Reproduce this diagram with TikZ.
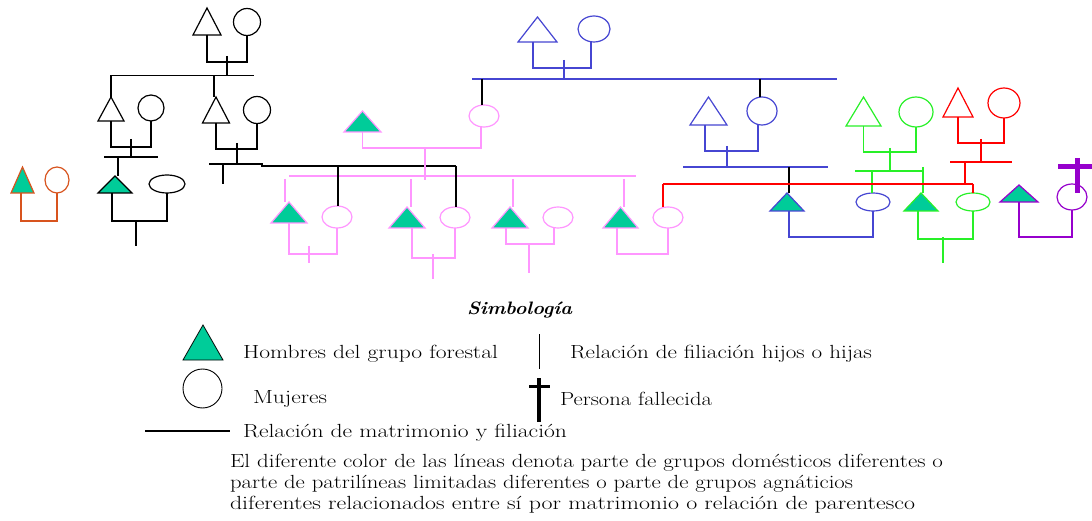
\documentclass[tikz,border=0pt]{standalone}
\usepackage{fontspec}
\usepackage{graphicx}
\usetikzlibrary{shapes.geometric}
\definecolor{myteal}{RGB}{0,204,153}
\definecolor{pinkl}{RGB}{255,150,255}
\definecolor{blu}{RGB}{70,70,210}
\definecolor{grn}{RGB}{40,240,40}
\definecolor{rd}{RGB}{255,0,0}
\definecolor{prp}{RGB}{150,0,204}
\definecolor{org}{RGB}{216,84,30}
\tikzset{
  ln/.style={line width=1.2pt},
  trbox/.style={shape=rectangle, inner sep=0pt, outer sep=0pt, draw=none},
  ell/.style={ellipse, inner sep=0pt, outer sep=0pt, line width=1.2pt},
  lbl/.style={anchor=base west, inner sep=0pt, outer sep=0pt,
    font=\fontsize{19}{23}\selectfont\addfontfeature{LetterSpace=4}},
}
\newcommand{\ptri}[7]{%
  \node[trbox, minimum width=#4pt, minimum height=#5pt] (#1) at (#2,#3-#5/2) {};
  \draw[ln,#6,fill=#7] (#1.south west) -- (#1.north) -- (#1.south east) -- cycle;}
\newcommand{\fitw}[2]{\resizebox{#1}{\height}{#2}}
\begin{document}
\begin{tikzpicture}[x=1pt,y=-1pt]
\fill[white] (0,0) rectangle (1092,521);
\useasboundingbox (0,0) rectangle (1092,521);

% ---------------- black group ----------------
\begin{scope}[ln,black]
\ptri{bT1}{207}{35}{28}{27}{black}{none}
\node[ell,draw=black,minimum width=27pt,minimum height=27pt] (bC1) at (247,22) {};
\draw (bT1.south) -- ++(0,27) -| (bC1.south);
\coordinate (bm1) at (227,56); \draw (bm1) -- ++(0,20);
\coordinate (bs1a) at (111,75.5); \coordinate (bs1b) at (254,75.5);
\draw (bs1a) -- (bs1b);
\ptri{bT2}{111}{121}{26}{24}{black}{none}
\draw (bs1a) -- (bT2.north);
\ptri{bT3}{216}{123}{27}{26}{black}{none}
\coordinate (bd3) at (214,75.5); \draw (bd3) -- (bd3 |- bT3.north);
\node[ell,draw=black,minimum width=26pt,minimum height=26pt] (bC2) at (151,108) {};
\node[ell,draw=black,minimum width=27pt,minimum height=27pt] (bC3) at (257,110) {};
\draw (bT2.south) -- ++(0,26) -| (bC2.south);
\coordinate (bm2) at (131,139); \draw (bm2) -- ++(0,18);
\coordinate (bs2a) at (104,157); \coordinate (bs2b) at (158,157);
\draw (bs2a) -- (bs2b);
\ptri{bT4}{115}{193}{34}{17}{black}{myteal}
\coordinate (bd4) at (118,157); \draw (bd4) -- (bd4 |- bT4.north);
\node[ell,draw=black,minimum width=36pt,minimum height=18pt] (bE1) at (167,184) {};
\draw ([xshift=-3pt]bT4.south) -- ++(0,28) -| (bE1.south);
\coordinate (bm4) at (136,221); \draw (bm4) -- ++(0,25);
\draw (bT3.south) -- ++(0,26) -| (bC3.south);
\coordinate (bm3) at (237,143); \draw (bm3) -- ++(0,21);
\coordinate (bs3a) at (209,164); \coordinate (bs3b) at (263,164);
\draw (bs3a) -- (bs3b);
\coordinate (bd5) at (223,164); \draw (bd5) -- ++(0,20);
\coordinate (bk1) at (261,166); \coordinate (bk2) at (456,166);
\coordinate (bk3) at (338,166);
\draw (bk1) -- (bk2);
\end{scope}

% ---------------- orange group ----------------
\begin{scope}[ln,org]
\ptri{oT}{22.5}{193}{23}{26}{org}{myteal}
\node[ell,draw=org,minimum width=24pt,minimum height=26pt] (oC) at (57,180) {};
\draw ([xshift=-1.5pt]oT.south) -- ++(0,28) -| (oC.south);
\end{scope}

% ---------------- pink group ----------------
\begin{scope}[ln,pinkl]
\ptri{pT0}{362.5}{132}{37}{21}{pinkl}{myteal}
\node[ell,draw=pinkl,minimum width=30pt,minimum height=22pt] (pE0) at (484,116) {};
\draw (pT0.south) -- ++(0,16) -| ([xshift=-3pt]pE0.south);
\coordinate (pm0) at (425,148); \draw (pm0) -- ++(0,32);
\coordinate (ps0a) at (289,176); \coordinate (ps0b) at (636,176);
\draw (ps0a) -- (ps0b);
\ptri{pT1}{289}{223}{36}{21}{pinkl}{myteal}
\ptri{pT2}{407}{228}{36}{21}{pinkl}{myteal}
\ptri{pT3}{510}{228}{36}{21}{pinkl}{myteal}
\ptri{pT4}{620.5}{228}{35}{21}{pinkl}{myteal}
\coordinate (pd1) at (285,179); \draw (pd1) -- (pd1 |- pT1.north);
\coordinate (pd2) at (411,179); \draw (pd2) -- (pd2 |- pT2.north);
\coordinate (pd3) at (513,179); \draw (pd3) -- (pd3 |- pT3.north);
\coordinate (pd4) at (624,179); \draw (pd4) -- (pd4 |- pT4.north);
\node[ell,draw=pinkl,minimum width=30pt,minimum height=22pt] (pC1) at (337,217) {};
\node[ell,draw=pinkl,minimum width=30pt,minimum height=21pt] (pC2) at (455,217.5) {};
\node[ell,draw=pinkl,minimum width=30pt,minimum height=21pt] (pC3) at (558,217.5) {};
\node[ell,draw=pinkl,minimum width=30pt,minimum height=21pt] (pC4) at (668,217.5) {};
\draw (pT1.south) -- ++(0,31) -| (pC1.south);
\coordinate (pm1) at (309,246); \draw (pm1) -- ++(0,17);
\draw ([xshift=5pt]pT2.south) -- ++(0,30) -| (pC2.south);
\coordinate (pm2) at (433,254); \draw (pm2) -- ++(0,25);
\draw ([xshift=-4pt]pT3.south) -- ++(0,16) -| ([xshift=-4pt]pC3.south);
\coordinate (pm3) at (529,244); \draw (pm3) -- ++(0,29);
\draw ([xshift=-3.5pt]pT4.south) -- ++(0,26) -| (pC4.south);
\end{scope}

% black drops onto pink women
\draw[ln,black] (bk3) -- (bk3 |- pC1.north);
\draw[ln,black] (bk2) -- (bk2 |- pC2.north);

% ---------------- blue group ----------------
\begin{scope}[ln,blu]
\ptri{uT1}{537.5}{42}{39}{25}{blu}{none}
\node[ell,draw=blu,minimum width=32pt,minimum height=26pt] (uE1) at (594,29) {};
\draw ([xshift=-4.5pt]uT1.south) -- ++(0,26) -| ([xshift=-3pt]uE1.south);
\coordinate (um1) at (564,60); \draw (um1) -- ++(0,19);
\coordinate (us1a) at (472,79); \coordinate (us1b) at (837,79);
\draw (us1a) -- (us1b);
\ptri{uT2}{708.5}{125}{37}{28}{blu}{none}
\node[ell,draw=blu,minimum width=30pt,minimum height=28pt] (uC2) at (762,111) {};
\draw ([xshift=-3.5pt]uT2.south) -- ++(0,26) -| ([xshift=-4pt]uC2.south);
\coordinate (um2) at (727,146); \draw (um2) -- ++(0,21);
\coordinate (us2a) at (683,167); \coordinate (us2b) at (828,167);
\draw (us2a) -- (us2b);
\ptri{uT3}{787}{211}{34}{18}{blu}{myteal}
\node[ell,draw=blu,minimum width=34pt,minimum height=18pt] (uE3) at (873,202) {};
\draw ([xshift=2pt]uT3.south) -- ++(0,26) -| (uE3.south);
\end{scope}
\coordinate (ud0) at (482,79); \draw[ln,black] (ud0) -- (ud0 |- pE0.north);
\coordinate (ud2) at (760,79); \draw[ln,black] (ud2) -- (ud2 |- uC2.north);
\coordinate (ud3) at (789,167); \draw[ln,black] (ud3) -- (ud3 |- uT3.north);

% ---------------- green group ----------------
\begin{scope}[ln,grn]
\ptri{gT1}{863.5}{126}{35}{29}{grn}{none}
\node[ell,draw=grn,minimum width=34pt,minimum height=30pt] (gE1) at (916,112) {};
\draw (gT1.south) -- ++(0,26) -| (gE1.south);
\coordinate (gm1) at (890,148); \draw (gm1) -- ++(0,23);
\coordinate (gs1a) at (855,171); \coordinate (gs1b) at (924,171);
\draw (gs1a) -- (gs1b);
\ptri{gT3}{921}{211}{34}{18}{grn}{myteal}
\node[ell,draw=grn,minimum width=34pt,minimum height=18pt] (gE3) at (973,202) {};
\coordinate (gd1) at (872,171); \draw (gd1) -- (gd1 |- uE3.north);
\coordinate (gd2) at (923,167); \draw (gd2) -- (gd2 |- gT3.north);
\draw ([xshift=-3pt]gT3.south) -- ++(0,28) -| (gE3.south);
\coordinate (gm3) at (943,237); \draw (gm3) -- ++(0,26);
\end{scope}

% ---------------- red group ----------------
\begin{scope}[ln,rd]
\ptri{rT}{958}{117}{30}{29}{rd}{none}
\node[ell,draw=rd,minimum width=32pt,minimum height=30pt] (rC) at (1004,103) {};
\draw (rT.south) -- ++(0,26) -| (rC.south);
\coordinate (rm1) at (981,139); \draw (rm1) -- ++(0,23);
\coordinate (rs1a) at (950,162); \coordinate (rs1b) at (1012,162);
\draw (rs1a) -- (rs1b);
\coordinate (rd1) at (965,162); \draw (rd1) -- ++(0,22);
\coordinate (rl1) at (663,184); \coordinate (rl2) at (973,184);
\draw (rl1) -- (rl2);
\draw (rl1) -- (rl1 |- pC4.north);
\draw (rl2) -- (gE3.north);
\end{scope}

% ---------------- purple group ----------------
\begin{scope}[ln,prp]
\ptri{vT}{1019}{202}{38}{17}{prp}{myteal}
\node[ell,draw=prp,minimum width=30pt,minimum height=26pt] (vC) at (1072,197) {};
\draw (vT.south) -- ++(0,35) -| (vC.south);
\coordinate (vx1) at (1077,158); \coordinate (vx2) at (1077,193);
\coordinate (vx3) at (1058,167); \coordinate (vx4) at (1092,167);
\draw[line width=5pt] (vx1) -- (vx2);
\draw[line width=5pt] (vx3) -- (vx4);
\end{scope}

% ---------------- legend ----------------
\ptri{lT}{203}{360}{40}{35}{black,line width=0.8pt}{myteal}
\node[ell,draw=black,line width=0.9pt,minimum width=39pt,minimum height=39pt] (lC) at (202.5,388.5) {};
\coordinate (lv1) at (539,334); \coordinate (lv2) at (539,369);
\draw[line width=1pt] (lv1) -- (lv2);
\coordinate (ld1) at (539,378); \coordinate (ld2) at (539,422);
\coordinate (ld3) at (529,386); \coordinate (ld4) at (550,386);
\draw[line width=4pt] (ld1) -- (ld2);
\draw[line width=3pt] (ld3) -- (ld4);
\coordinate (lh1) at (145,431); \coordinate (lh2) at (230,431);
\draw[line width=1.2pt] (lh1) -- (lh2);

\node[lbl] (tsim) at (467,314) {\fontsize{18}{20}\selectfont\bfseries\itshape\fitw{105pt}{Simbología}};
\node[lbl] (thom) at (243,358) {\fitw{255pt}{Hombres del grupo forestal}};
\node[lbl] (tfil) at (570,358) {\fitw{302pt}{Relación de filiación hijos o hijas}};
\node[lbl] (tmuj) at (253,403) {\fitw{74pt}{Mujeres}};
\node[lbl] (tper) at (560,405) {\fitw{152pt}{Persona fallecida}};
\node[lbl] (tmat) at (243,437) {\fitw{324pt}{Relación de matrimonio y filiación}};
\node[lbl] (tp1) at (230,467) {\fitw{713pt}{El diferente color de las líneas denota parte de grupos domésticos diferentes o}};
\node[lbl] (tp2) at (230,488) {\fitw{623pt}{parte de patrilíneas limitadas diferentes o parte de grupos agnáticios}};
\node[lbl] (tp3) at (230,509) {\fitw{685pt}{diferentes relacionados entre sí por matrimonio o relación de parentesco}};
\end{tikzpicture}
\end{document}
